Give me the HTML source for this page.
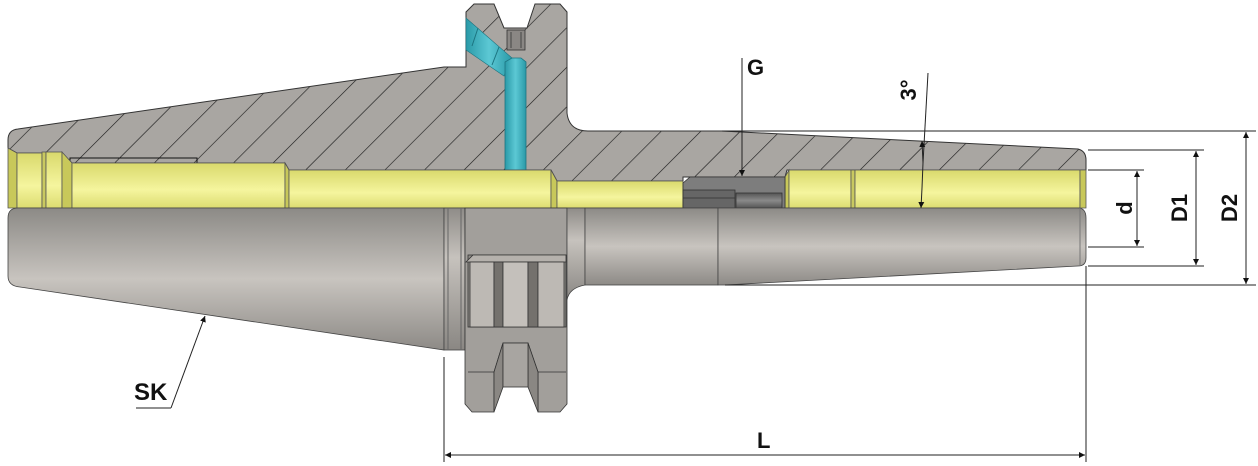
<!DOCTYPE html>
<html><head><meta charset="utf-8"><style>
html,body{margin:0;padding:0;background:#fff;}
svg{display:block;}
text{font-family:"Liberation Sans",sans-serif;font-weight:bold;fill:#111;}
</style></head><body>
<svg width="1258" height="466" viewBox="0 0 1258 466" xmlns="http://www.w3.org/2000/svg">
<defs>
<pattern id="hatch" patternUnits="userSpaceOnUse" width="28" height="28" patternTransform="rotate(-45)">
<rect width="28" height="28" fill="#a9a6a2"/>
<line x1="0" y1="0" x2="28" y2="0" stroke="#1a1a1a" stroke-width="1.2"/>
</pattern>
<linearGradient id="gy" x1="0" y1="0" x2="0" y2="1">
<stop offset="0" stop-color="#8c8a86"/><stop offset="0.5" stop-color="#c8c4bf"/><stop offset="1" stop-color="#8d8a86"/>
</linearGradient>
<linearGradient id="gy2" x1="0" y1="0" x2="0" y2="1">
<stop offset="0" stop-color="#8f8c88"/><stop offset="0.35" stop-color="#c6c2bd"/><stop offset="1" stop-color="#8a8783"/>
</linearGradient>
<linearGradient id="yl" x1="0" y1="0" x2="0" y2="1">
<stop offset="0" stop-color="#d9d96c"/><stop offset="0.6" stop-color="#f5f59e"/><stop offset="1" stop-color="#dcdc70"/>
</linearGradient>
<linearGradient id="cy" x1="0" y1="0" x2="1" y2="0">
<stop offset="0" stop-color="#2a9aa8"/><stop offset="0.5" stop-color="#5cc8d4"/><stop offset="1" stop-color="#2a9aa8"/>
</linearGradient>
<linearGradient id="dk" x1="0" y1="0" x2="0" y2="1">
<stop offset="0" stop-color="#555"/><stop offset="0.5" stop-color="#8a8a8a"/><stop offset="1" stop-color="#555"/>
</linearGradient>
<marker id="ar" viewBox="0 0 10 10" refX="10" refY="5" markerWidth="6" markerHeight="16" markerUnits="userSpaceOnUse" orient="auto">
<path d="M0,0 L10,5 L0,10 Z" fill="#111"/></marker>
</defs>

<path d="M8,140 Q8,130 18,129 L444,67 L466,67 L466,12 L474,4 L494,4 L504,28 L527,28 L535,4 L560,4 L567,12 L567,113 Q569,131 588,131 L722,131 L1078,149 Q1086,151 1086,160 L1086,170 L787,170 L785,177 L683,177 L683,181 L557,181 L551,170 L289,170 L285,163 L72,163 L62,153 L17,153 L8,148 Z" fill="url(#hatch)" stroke="#333" stroke-width="1"/>
<rect x="70" y="158" width="127" height="5" fill="none" stroke="#111" stroke-width="1"/>
<rect x="507" y="30" width="18" height="20" fill="#8a8784" stroke="#333" stroke-width="0.8"/>
<line x1="511" y1="32" x2="511" y2="48" stroke="#444"/><line x1="521" y1="32" x2="521" y2="48" stroke="#444"/>
<path d="M466,18 L512,58 L504,76 L466,50 Z" fill="url(#cy)" stroke="#1c7480" stroke-width="0.6"/>
<line x1="478" y1="28" x2="472" y2="46" stroke="#1c7480"/><line x1="499" y1="47" x2="492" y2="65" stroke="#1c7480"/>
<path d="M505,62 L512,58 L521,58 L526,62 L526,170 L505,170 Z" fill="url(#cy)" stroke="#1c7480" stroke-width="0.8"/>

<g stroke="#555" stroke-width="0.8">
<path d="M8,148 L17,153 L17,208 L8,208 Z" fill="#c8c85a"/>
<rect x="17" y="153" width="25" height="55" fill="url(#yl)"/>
<rect x="42" y="152" width="4" height="56" fill="#c9c960"/>
<rect x="46" y="152" width="16" height="56" fill="url(#yl)"/>
<path d="M62,152 L72,163 L72,208 L62,208 Z" fill="#c8c85a"/>
<rect x="72" y="163" width="213" height="45" fill="url(#yl)"/>
<path d="M285,163 L289,170 L289,208 L285,208 Z" fill="#c8c85a"/>
<rect x="289" y="170" width="262" height="38" fill="url(#yl)"/>
<path d="M551,170 L557,181 L557,208 L551,208 Z" fill="#c8c85a"/>
<rect x="557" y="181" width="126" height="27" fill="url(#yl)"/>
<path d="M785,177 L789,170 L789,208 L785,208 Z" fill="#c8c85a"/>
<rect x="789" y="170" width="62" height="38" fill="url(#yl)"/>
<rect x="851" y="170" width="4" height="38" fill="#c9c960"/>
<rect x="855" y="170" width="225" height="38" fill="url(#yl)"/>
<path d="M1080,170 L1086,170 L1086,208 L1080,208 Z" fill="#c8c85a"/>
</g>
<g stroke="#333" stroke-width="0.8">
<path d="M690,177 L785,177 L785,208 L683,208 L683,183 Z" fill="#7d7d7d"/>
<rect x="683" y="190" width="52" height="18" fill="#666"/>
<line x1="683" y1="198" x2="735" y2="198"/>
<rect x="736" y="193" width="46" height="15" fill="url(#dk)"/>
</g>

<path d="M18,208 L444,208 L444,350 L20,287 Q8,286 8,276 L8,218 Q8,208 18,208 Z" fill="url(#gy)" stroke="#444" stroke-width="0.8"/>
<rect x="444" y="208" width="21" height="142" fill="url(#gy2)" stroke="#444" stroke-width="0.8"/>
<line x1="448" y1="208" x2="448" y2="350" stroke="#666"/><line x1="461" y1="208" x2="461" y2="350" stroke="#666"/>
<g stroke="#333" stroke-width="0.8">
<path d="M465,208 L567,208 L567,404 L560,412 L538,412 L538,372 L528,343 L503,343 L494,372 L494,412 L472,412 L465,404 Z" fill="#a29f9b"/>
<rect x="468" y="255" width="98" height="72" fill="#8e8b87"/>
<path d="M466,262 L473,255 L566,255 L566,262 Z" fill="#b5b1ac"/>
<rect x="470" y="262" width="24" height="65" fill="#bdb9b4"/>
<rect x="494" y="262" width="9" height="65" fill="#74716d"/>
<rect x="503" y="262" width="25" height="65" fill="#c4c0bb"/>
<rect x="528" y="262" width="10" height="65" fill="#74716d"/>
<rect x="538" y="262" width="26" height="65" fill="#bdb9b4"/>
<path d="M494,372 L503,343 L503,387 L494,412 Z" fill="#8a8783"/>
<path d="M538,372 L528,343 L528,387 L538,412 Z" fill="#8a8783"/>
<rect x="503" y="343" width="25" height="44" fill="#a8a5a1"/>
<line x1="468" y1="372" x2="494" y2="372"/><line x1="538" y1="372" x2="566" y2="372"/>
</g>
<path d="M567,208 L585,208 L585,285 Q569,288 567,300 Z" fill="url(#gy2)" stroke="#444" stroke-width="0.8"/>
<rect x="585" y="208" width="133" height="77" fill="url(#gy)" stroke="#444" stroke-width="0.8"/>
<path d="M718,208 L1078,208 Q1086,208 1086,218 L1086,258 Q1086,266 1078,266 L725,285 L718,285 Z" fill="url(#gy)" stroke="#444" stroke-width="0.8"/>
<line x1="1080" y1="208" x2="1080" y2="266" stroke="#777"/>

<g stroke="#222" stroke-width="1" fill="none">
<line x1="722" y1="131" x2="1256" y2="131"/>
<line x1="725" y1="285" x2="1256" y2="285"/>
<line x1="1246" y1="150" x2="1246" y2="132" marker-end="url(#ar)"/>
<line x1="1246" y1="260" x2="1246" y2="284" marker-end="url(#ar)"/>
<line x1="1246" y1="150" x2="1246" y2="260"/>
<line x1="1088" y1="150" x2="1204" y2="150"/>
<line x1="1088" y1="266" x2="1204" y2="266"/>
<line x1="1196" y1="180" x2="1196" y2="151" marker-end="url(#ar)"/>
<line x1="1196" y1="240" x2="1196" y2="265" marker-end="url(#ar)"/>
<line x1="1196" y1="180" x2="1196" y2="240"/>
<line x1="1088" y1="170" x2="1144" y2="170"/>
<line x1="1088" y1="247" x2="1144" y2="247"/>
<line x1="1137" y1="195" x2="1137" y2="171" marker-end="url(#ar)"/>
<line x1="1137" y1="222" x2="1137" y2="246" marker-end="url(#ar)"/>
<line x1="1137" y1="195" x2="1137" y2="222"/>
<line x1="444" y1="357" x2="444" y2="462"/>
<line x1="1086" y1="266" x2="1086" y2="462"/>
<line x1="470" y1="455" x2="445" y2="455" marker-end="url(#ar)"/>
<line x1="1060" y1="455" x2="1085" y2="455" marker-end="url(#ar)"/>
<line x1="470" y1="455" x2="1060" y2="455"/>
<line x1="742" y1="58" x2="742" y2="176" marker-end="url(#ar)"/>
<line x1="928" y1="73" x2="923" y2="163"/>
<line x1="923" y1="163" x2="922" y2="141" marker-end="url(#ar)"/>
<line x1="922" y1="188" x2="921" y2="208" marker-end="url(#ar)"/>
<line x1="923" y1="163" x2="922" y2="188"/>
<line x1="136" y1="408" x2="171" y2="408"/>
<line x1="171" y1="408" x2="205" y2="316" marker-end="url(#ar)"/>
</g>

<text x="747" y="75" font-size="22">G</text>
<text x="134" y="400" font-size="24">SK</text>
<text x="757" y="448" font-size="22">L</text>
<text transform="translate(916,90) rotate(-90)" font-size="22" text-anchor="middle">3°</text>
<text transform="translate(1132,208) rotate(-90)" font-size="22" text-anchor="middle">d</text>
<text transform="translate(1187,208) rotate(-90)" font-size="22" text-anchor="middle">D1</text>
<text transform="translate(1237,208) rotate(-90)" font-size="22" text-anchor="middle">D2</text>
</svg>
</body></html>
